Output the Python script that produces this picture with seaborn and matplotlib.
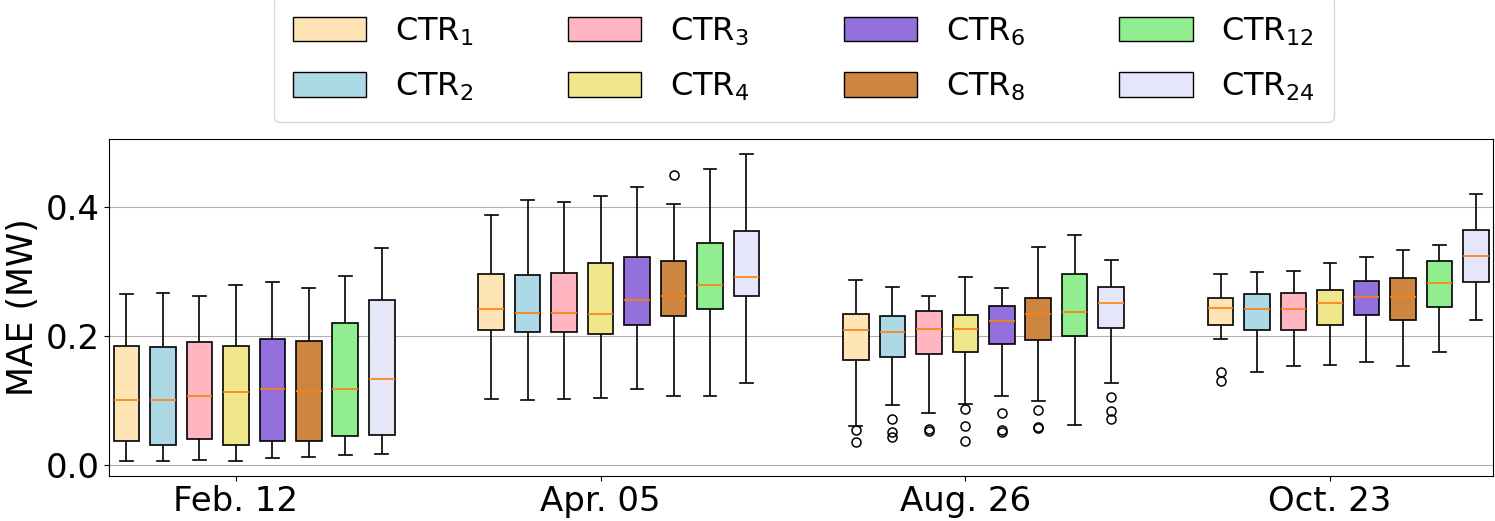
import numpy as np
import pandas as pd
import matplotlib
matplotlib.use("Agg")
import matplotlib.pyplot as plt
from matplotlib.patches import Patch
import seaborn as sns

# ---------------- data ----------------
dates = ["Feb. 12", "Apr. 05", "Aug. 26", "Oct. 23"]
series = ["1", "2", "3", "4", "6", "8", "12", "24"]
colors = ["#FFE4B5", "#ADD8E6", "#FFB6C1", "#F0E68C",
          "#9370DB", "#CD853F", "#90EE90", "#E6E6FA"]

# rows = dates, columns = series
whis_low = [
    [0.0067, 0.0067, 0.0077, 0.0067, 0.0114, 0.0124, 0.0150, 0.0165],
    [0.1022, 0.1007, 0.1022, 0.1037, 0.1177, 0.1068, 0.1068, 0.1265],
    [0.0604, 0.0924, 0.0805, 0.0949, 0.1063, 0.0986, 0.0619, 0.1270],
    [0.1951, 0.1435, 0.1528, 0.1543, 0.1600, 0.1533, 0.1750, 0.2245],
]
q1 = [
    [0.0366, 0.0310, 0.0397, 0.0315, 0.0377, 0.0372, 0.0449, 0.0465],
    [0.2086, 0.2065, 0.2065, 0.2034, 0.2163, 0.2307, 0.2411, 0.2617],
    [0.1631, 0.1677, 0.1724, 0.1750, 0.1869, 0.1936, 0.1993, 0.2121],
    [0.2168, 0.2090, 0.2090, 0.2173, 0.2318, 0.2240, 0.2442, 0.2829],
]
median = [
    [0.1012, 0.1007, 0.1074, 0.1130, 0.1172, 0.1151, 0.1182, 0.1337],
    [0.2416, 0.2359, 0.2359, 0.2338, 0.2560, 0.2622, 0.2787, 0.2916],
    [0.2095, 0.2064, 0.2106, 0.2106, 0.2235, 0.2333, 0.2369, 0.2509],
    [0.2436, 0.2421, 0.2421, 0.2509, 0.2601, 0.2606, 0.2823, 0.3231],
]
q3 = [
    [0.1848, 0.1832, 0.1910, 0.1848, 0.1946, 0.1925, 0.2199, 0.2550],
    [0.2963, 0.2942, 0.2973, 0.3133, 0.3216, 0.3164, 0.3443, 0.3628],
    [0.2343, 0.2312, 0.2380, 0.2327, 0.2462, 0.2591, 0.2963, 0.2756],
    [0.2591, 0.2653, 0.2658, 0.2715, 0.2854, 0.2891, 0.3164, 0.3639],
]
whis_high = [
    [0.2648, 0.2658, 0.2622, 0.2787, 0.2834, 0.2746, 0.2922, 0.3360],
    [0.3871, 0.4098, 0.4077, 0.4165, 0.4300, 0.4041, 0.4573, 0.4816],
    [0.2870, 0.2751, 0.2622, 0.2916, 0.2746, 0.3381, 0.3561, 0.3174],
    [0.2958, 0.2989, 0.3004, 0.3123, 0.3226, 0.3329, 0.3402, 0.4196],
]
outliers = [
    [[], [], [], [], [], [], [], []],
    [[], [], [], [], [], [0.4486], [], []],
    [[0.0547, 0.0361], [0.0710, 0.0516, 0.0429], [0.0553, 0.0531],
     [0.0860, 0.0599, 0.0376], [0.0805, 0.0542, 0.0516],
     [0.0847, 0.0588, 0.0568], [], [0.1048, 0.0831, 0.0717]],
    [[0.1440, 0.1296], [], [], [], [], [], [], []],
]


def sample_from_stats(lo, a, m, b, hi, outs, k=4):
    """Build a 4k+1 sample whose box-plot statistics equal the read values."""
    lows = sorted(o for o in outs if o < a)
    highs = sorted(o for o in outs if o > b)
    left = lows + [lo] + [a] * (k - len(lows))
    mid = [a] * (k - 1) + [m] + [b] * (k - 1)
    right = [b] * (k - len(highs)) + [hi] + highs
    return left + mid + right


rows = []
for gi, d in enumerate(dates):
    for si, s in enumerate(series):
        vals = sample_from_stats(whis_low[gi][si], q1[gi][si], median[gi][si],
                                 q3[gi][si], whis_high[gi][si], outliers[gi][si])
        pos = gi + (si - 3) * 0.1
        for v in vals:
            rows.append({"pos": round(pos, 3), "MAE": v, "series": s})
df = pd.DataFrame(rows)

# ---------------- plot ----------------
fig = plt.figure(figsize=(14.95, 5.21), dpi=100)
ax = fig.add_axes([0.0731, 0.0869, 0.9256, 0.6457])

sns.boxplot(data=df, x="pos", y="MAE", hue="series", hue_order=series,
            palette=dict(zip(series, colors)), native_scale=True, dodge=False,
            width=0.7, saturation=1, linecolor="black", linewidth=1.2,
            whis=1.5, legend=False, ax=ax,
            medianprops=dict(color="#ff7f0e", linewidth=1.2),
            flierprops=dict(marker="o", markerfacecolor="none",
                            markeredgecolor="black", markersize=6.5,
                            markeredgewidth=1.1))

ax.set_xlim(-0.347, 3.447)
ax.set_ylim(-0.0165, 0.504)
ax.set_xticks(range(len(dates)))
ax.set_xticklabels(dates, fontsize=24.5)
ax.set_yticks([0.0, 0.2, 0.4])
ax.set_yticklabels(["0.0", "0.2", "0.4"], fontsize=24.5)
ax.set_xlabel("")
ax.set_ylabel("MAE (MW)", fontsize=25)
ax.yaxis.grid(True, color="#b0b0b0", linewidth=0.8)
ax.xaxis.grid(False)
ax.set_axisbelow(True)

handles = [Patch(facecolor=c, edgecolor="black", linewidth=1.0,
                 label=r"CTR$_{%s}$" % s) for s, c in zip(series, colors)]
ax.legend(handles=handles, ncol=4, loc="lower center",
          bbox_to_anchor=(0.502, 1.051), borderaxespad=0.0, fontsize=23,
          handlelength=2.3, handleheight=0.8, handletextpad=0.9,
          columnspacing=2.95, labelspacing=0.72, borderpad=0.6)

fig.savefig("out.png", dpi=100)
